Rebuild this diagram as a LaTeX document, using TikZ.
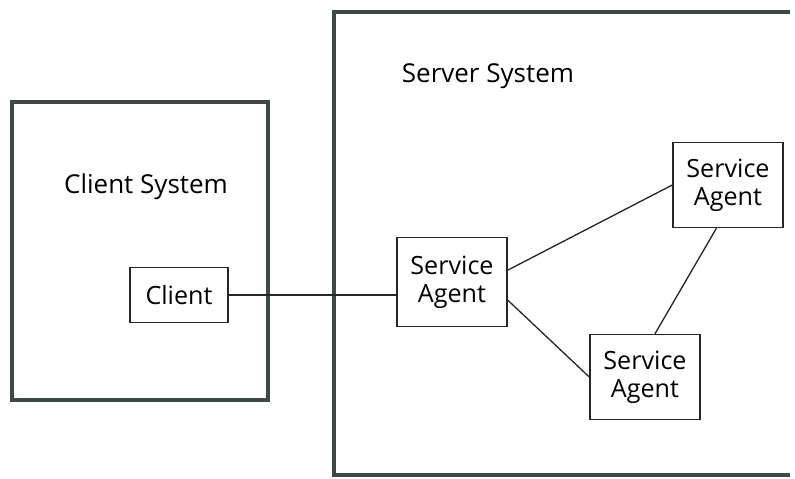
\documentclass[tikz,border=0pt]{standalone}
\usepackage{fontspec}
\setmainfont{Open Sans}
\usepackage{tikz}
\usetikzlibrary{positioning}

\definecolor{sysgray}{HTML}{3E4846}

\begin{document}
\begin{tikzpicture}[x=0.02cm, y=-0.02cm,
  sysbox/.style={draw=sysgray, line width=2.2pt, inner sep=0pt},
  agent/.style={draw=black!85, line width=0.85pt, align=center,
                font=\fontsize{14.3}{16}\selectfont, inner sep=0pt,
                minimum width=2.2cm, minimum height=1.72cm},
  syslbl/.style={font=\fontsize{14.8}{16}\selectfont, inner sep=0pt},
  link/.style={draw=black!85, line width=0.75pt},
]
  \useasboundingbox (0,0) rectangle (795,478);

  % the two systems (server side runs off to the right)
  \node[sysbox, minimum width=5.12cm, minimum height=5.96cm] (clientsys) at (140,251) {};
  \draw[sysbox] (790,12) -- (334,12) -- (334,475) -- (790,475);
  \node[syslbl] (clientlbl) at (146,187) {Client System};
  \node[syslbl] (serverlbl) at (488,76) {Server System};

  % client and its agents
  \node[agent, minimum width=1.96cm, minimum height=1.1cm] (client) at (179,295) {Client};
  \node[agent, minimum height=1.78cm] (agentA) at (452,282) {Service\\Agent};
  \node[agent, minimum height=1.7cm]  (agentB) at (728,185) {Service\\Agent};
  \node[agent, minimum height=1.7cm]  (agentC) at (645,377) {Service\\Agent};

  % connections
  \draw[link] (client.east) -- (client.east -| agentA.west);
  \draw[link] (agentA.12)  -- (agentB.west);
  \draw[link] (agentA.-18) -- (agentC.west);
  \draw[link] (agentB.255) -- (agentC.77);
\end{tikzpicture}
\end{document}
